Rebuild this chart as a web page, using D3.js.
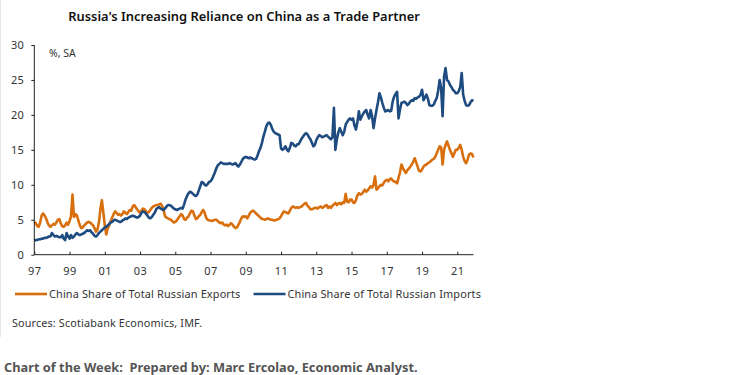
<!DOCTYPE html>
<html>
<head>
<meta charset="utf-8">
<script src="https://cdn.jsdelivr.net/npm/d3@7"></script>
<style>
  body { margin: 0; background: #fff; }
  svg { display: block; font-family: "Noto Sans", sans-serif; }
</style>
</head>
<body>
<script>
// monthly data, Jan 1997 .. Dec 2021
const startYear = 1997
const exportsShare = [
  4.7, 4.5, 4.1, 4.0, 4.6, 5.6, 5.9, 5.6, 5.2, 4.6, 4.2, 4.0,
  4.2, 4.4, 4.3, 4.6, 5.0, 5.1, 4.5, 4.1, 4.0, 4.2, 4.6, 4.3,
  4.8, 5.5, 8.6, 5.4, 5.8, 5.6, 4.9, 4.2, 3.8, 3.9, 4.2, 4.4,
  4.6, 4.7, 4.6, 4.4, 4.2, 3.8, 3.3, 3.6, 4.6, 6.5, 7.8, 6.0,
  4.2, 2.9, 3.8, 4.2, 4.8, 5.3, 5.8, 6.2, 6.0, 5.7, 5.8, 5.6,
  5.8, 6.2, 6.0, 5.8, 6.1, 6.4, 6.3, 6.9, 7.1, 6.8, 6.5, 6.2,
  6.0, 6.3, 6.6, 6.5, 6.2, 6.0, 6.1, 6.4, 6.7, 6.9, 7.0, 7.1,
  7.1, 7.2, 7.3, 7.0, 6.4, 5.5, 5.3, 5.2, 5.1, 5.0, 4.8, 4.6,
  4.7, 4.9, 5.2, 5.5, 5.8, 5.6, 5.1, 5.0, 5.3, 5.5, 5.9, 6.3,
  6.2, 5.6, 5.1, 5.2, 5.5, 5.7, 6.1, 6.4, 6.0, 5.3, 5.0, 4.9,
  4.9, 4.8, 4.9, 5.0, 5.0, 4.8, 4.6, 4.5, 4.6, 4.3, 4.2, 4.3,
  4.1, 4.3, 4.5, 4.3, 4.0, 3.8, 3.9, 4.3, 4.7, 5.2, 5.5, 5.4,
  5.5, 5.2, 5.6, 6.0, 6.2, 6.3, 6.1, 5.9, 5.7, 5.5, 5.3, 5.1,
  5.1, 5.0, 5.1, 5.2, 5.1, 5.0, 5.0, 4.9, 4.9, 5.0, 5.1, 5.2,
  5.5, 5.9, 6.2, 6.1, 6.0, 5.9, 6.3, 6.7, 6.9, 6.8, 6.7, 6.8,
  6.7, 6.8, 6.9, 7.1, 7.3, 7.4, 7.0, 6.8, 6.5, 6.5, 6.6, 6.7,
  6.7, 6.6, 6.8, 6.9, 6.7, 6.8, 7.0, 7.1, 6.7, 6.9, 6.7, 7.0,
  7.2, 7.4, 7.1, 7.3, 7.4, 7.2, 7.5, 7.4, 8.7, 7.6, 7.5, 7.9,
  7.9, 7.5, 7.4, 7.8, 8.5, 8.8, 8.6, 8.7, 9.0, 9.3, 9.0, 9.2,
  9.5, 9.8, 9.6, 10.0, 11.2, 9.3, 9.5, 9.8, 10.0, 9.9, 10.3, 10.6,
  10.7, 10.5, 10.8, 10.9, 10.6, 10.5, 10.4, 10.2, 11.0, 11.8, 12.9, 12.4,
  12.0, 11.7, 12.1, 12.3, 12.6, 12.9, 13.3, 13.8, 13.2, 12.6, 12.0, 11.9,
  12.2, 12.6, 12.8, 12.9, 13.1, 13.2, 13.4, 13.6, 13.7, 14.0, 14.5, 15.0,
  15.5, 15.4, 12.9, 15.0, 15.7, 16.2, 15.6, 15.0, 14.5, 14.0, 14.5, 15.0,
  15.0, 15.3, 15.7, 15.0, 14.0, 13.4, 13.1, 13.6, 14.3, 14.5, 14.4, 13.9
]
const importsShare = [
  2.0, 2.1, 2.1, 2.2, 2.2, 2.3, 2.3, 2.4, 2.4, 2.5, 2.6, 2.6,
  3.1, 2.8, 2.6, 2.7, 2.6, 2.5, 2.5, 2.8, 2.3, 2.1, 3.1, 2.6,
  2.3, 2.8, 2.4, 2.6, 2.9, 3.1, 2.9, 2.8, 2.9, 3.0, 3.1, 3.3,
  3.5, 3.4, 3.5, 3.2, 3.0, 2.7, 2.6, 2.8, 3.1, 3.3, 3.5, 3.7,
  3.9, 4.0, 4.2, 4.4, 4.6, 4.7, 4.9, 5.0, 4.9, 4.8, 4.7, 4.7,
  4.9, 5.0, 5.2, 5.1, 5.3, 5.4, 5.5, 5.6, 5.5, 5.4, 5.3, 5.4,
  5.6, 6.0, 6.2, 6.1, 5.9, 5.6, 5.3, 5.2, 5.4, 5.7, 6.0, 6.5,
  6.7, 6.8, 6.6, 6.5, 6.4, 6.6, 6.9, 7.1, 7.1, 7.0, 6.8, 6.6,
  6.5, 6.4, 6.5, 6.6, 6.7, 6.6, 7.2, 7.9, 8.4, 8.8, 9.0, 8.9,
  8.7, 8.5, 8.4, 8.6, 9.2, 9.8, 10.4, 10.3, 10.0, 9.9, 10.1, 10.4,
  10.5, 10.8, 11.3, 11.8, 12.4, 12.8, 13.0, 13.2, 13.1, 13.0, 13.0, 13.0,
  13.0, 13.1, 13.0, 12.9, 13.0, 13.1, 12.8, 12.6, 12.9, 13.3, 13.7, 13.9,
  14.0, 13.9, 13.8, 13.9, 13.8, 13.7, 13.6, 13.7, 14.2, 14.8, 15.3, 16.0,
  16.9, 17.6, 18.4, 18.8, 18.9, 18.6, 18.0, 17.6, 17.4, 17.3, 17.2, 17.1,
  15.2, 15.0, 15.2, 15.5, 15.0, 14.8, 15.3, 16.0, 15.9, 15.6, 15.5, 15.8,
  15.8, 16.2, 16.6, 16.9, 17.2, 17.4, 17.2, 16.8, 16.5, 16.0, 15.5, 15.7,
  16.4, 16.8, 17.1, 17.0, 16.8, 16.9, 17.0, 17.1, 16.9, 16.7, 16.5, 16.8,
  21.0, 15.0, 16.5, 17.5, 18.1, 17.6, 17.1, 17.6, 18.6, 19.0, 19.3, 19.5,
  19.3, 19.5, 18.5, 17.9, 19.0, 20.5, 19.3, 19.8, 20.2, 20.5, 20.7, 20.0,
  19.5, 20.7, 19.8, 18.1, 19.5, 20.7, 21.8, 23.1, 22.5, 21.7, 21.0, 20.5,
  20.6, 20.7, 20.5, 20.6, 21.9, 22.6, 23.0, 23.3, 19.5, 20.8, 21.7, 21.8,
  21.9, 21.7, 21.4, 21.6, 21.9, 22.1, 22.0, 22.4, 22.3, 22.5, 22.6, 22.9,
  23.6, 22.1, 22.5, 22.9, 22.3, 21.4, 21.3, 21.3, 21.5, 22.0, 22.4, 23.5,
  25.0, 23.8, 19.8, 25.5, 26.7, 25.0, 24.8, 24.3, 24.0, 23.6, 23.4, 23.1,
  23.1, 23.4, 24.0, 26.0, 22.9, 22.0, 21.4, 21.3, 21.4, 21.8, 22.1, 22.0
]
const seriesNames = ['China Share of Total Russian Exports', 'China Share of Total Russian Imports']
const seriesColors = ['#d86e0c', '#1f4c80']
const xTickYears = [1997, 1999, 2001, 2003, 2005, 2007, 2009, 2011, 2013, 2015, 2017, 2019, 2021]
const yTicks = [0, 5, 10, 15, 20, 25, 30]

const WIDTH = 746
const HEIGHT = 375

const svg = d3.select(document.body).append('svg')
  .attr('width', WIDTH)
  .attr('height', HEIGHT)

const x = d3.scaleLinear().domain([1997, 2021.92]).range([34.3, 473.5])
const y = d3.scaleLinear().domain([0, 30]).range([254.7, 45])

// faint frame edge on the left
svg.append('line')
  .attr('x1', 0.5).attr('x2', 0.5).attr('y1', 0).attr('y2', 337)
  .attr('stroke', '#e6e6e6')

svg.append('text')
  .attr('x', 244).attr('y', 20.5)
  .attr('text-anchor', 'middle')
  .attr('font-size', 12.9)
  .attr('font-weight', 600)
  .attr('fill', '#111')
  .text("Russia's Increasing Reliance on China as a Trade Partner")

const line = d3.line()
  .x((d, i) => x(startYear + i / 12))
  .y(d => y(d))

const plot = svg.append('g')
plot.append('path')
  .datum(exportsShare)
  .attr('d', line)
  .attr('fill', 'none')
  .attr('stroke', seriesColors[0])
  .attr('stroke-width', 2.6)
  .attr('stroke-linejoin', 'round')
plot.append('path')
  .datum(importsShare)
  .attr('d', line)
  .attr('fill', 'none')
  .attr('stroke', seriesColors[1])
  .attr('stroke-width', 2.6)
  .attr('stroke-linejoin', 'round')

const yAxis = svg.append('g')
  .attr('transform', 'translate(34.3,0)')
  .call(d3.axisLeft(y).tickValues(yTicks).tickSize(3).tickPadding(7).tickFormat(d3.format('d')))
yAxis.select('.domain').attr('d', 'M0,' + y(30) + 'V' + y(0))

const xAxis = svg.append('g')
  .attr('transform', 'translate(0,' + y(0) + ')')
  .call(d3.axisBottom(x).tickValues(xTickYears).tickSize(-3).tickPadding(12.5)
    .tickFormat(d => String(d).slice(2)))
xAxis.select('.domain').attr('d', 'M34.3,0H473.5')

svg.selectAll('.tick text')
  .attr('font-size', 11)
  .attr('letter-spacing', 0.4)
  .attr('fill', '#333')
  .attr('font-family', '"Noto Sans", sans-serif')
svg.selectAll('.domain, .tick line').attr('stroke', '#222')

svg.append('text')
  .attr('x', 49).attr('y', 56.5)
  .attr('font-size', 10.5)
  .attr('fill', '#333')
  .text('%, SA')

// legend
const legend = svg.append('g')
const legendX = [15, 253.5]
seriesNames.forEach((name, i) => {
  legend.append('line')
    .attr('x1', legendX[i]).attr('x2', legendX[i] + 32)
    .attr('y1', 294).attr('y2', 294)
    .attr('stroke', seriesColors[i])
    .attr('stroke-width', 2.6)
  legend.append('text')
    .attr('x', legendX[i] + 34).attr('y', 297.8)
    .attr('font-size', 10.9)
    .attr('letter-spacing', 0.15)
    .attr('fill', '#333')
    .text(name)
})

svg.append('text')
  .attr('x', 12).attr('y', 327)
  .attr('font-size', 10.8)
  .attr('letter-spacing', 0.15)
  .attr('fill', '#333')
  .text('Sources: Scotiabank Economics, IMF.')

svg.append('text')
  .attr('x', 4).attr('y', 371.5)
  .attr('font-size', 12.8)
  .attr('font-weight', 700)
  .attr('fill', '#555')
  .style('white-space', 'pre')
  .text('Chart of the Week:  Prepared by: Marc Ercolao, Economic Analyst.')
</script>
</body>
</html>
